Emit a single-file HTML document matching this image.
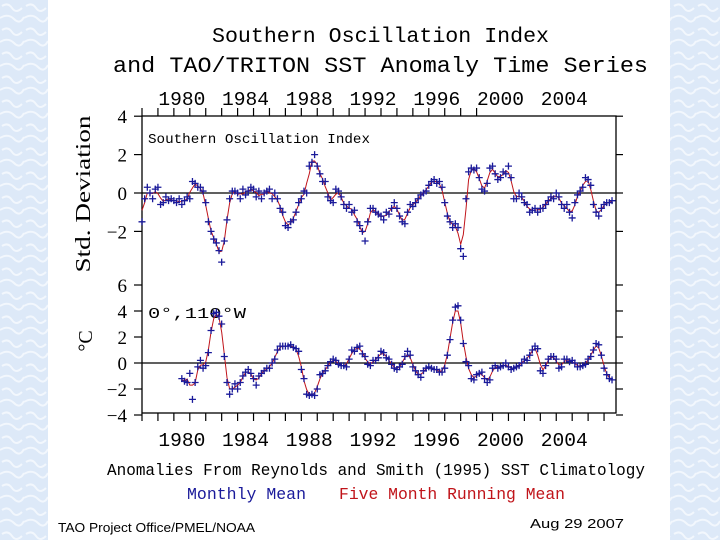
<!DOCTYPE html>
<html><head><meta charset="utf-8"><style>
html,body{margin:0;padding:0;width:720px;height:540px;overflow:hidden;background:#e4eefa;}
svg{display:block}
text{font-family:"Liberation Serif",serif;fill:#000}
.m{font-family:"Liberation Mono",monospace}
</style></head><body>
<svg id="c" width="720" height="540" viewBox="0 0 720 540" xmlns="http://www.w3.org/2000/svg">
<defs><pattern id="bg" width="24" height="24" patternUnits="userSpaceOnUse"><rect width="24" height="24" fill="#dde9f8"/><path d="M2 6 q6 -4 10 2 t10 0 M0 18 q8 -5 14 1 t10 -2" stroke="#f2f7fd" stroke-width="2" fill="none"/></pattern></defs>
<rect x="0" y="0" width="720" height="540" fill="url(#bg)"/>
<rect x="48" y="0" width="622" height="540" fill="#fff"/>
<text class="m" x="212" y="42" font-size="21" textLength="337" lengthAdjust="spacingAndGlyphs">Southern Oscillation Index</text>
<text class="m" x="113" y="72" font-size="22" textLength="535" lengthAdjust="spacingAndGlyphs">and TAO/TRITON SST Anomaly Time Series</text>
<text x="90" y="194" font-size="21" text-anchor="middle" transform="rotate(-90 90 194)" textLength="157" lengthAdjust="spacingAndGlyphs">Std. Deviation</text>
<text x="92" y="341" font-size="20" text-anchor="middle" transform="rotate(-90 92 341)">°C</text>
<text class="m" x="148" y="143" font-size="14" textLength="222" lengthAdjust="spacingAndGlyphs">Southern Oscillation Index</text>
<text class="m" x="148" y="318" font-size="15" textLength="98" lengthAdjust="spacingAndGlyphs">0°,110°W</text>
<text class="m" x="107" y="475" font-size="17" textLength="538" lengthAdjust="spacingAndGlyphs">Anomalies From Reynolds and Smith (1995) SST Climatology</text>
<text class="m" x="187" y="499" font-size="17" style="fill:#1a1a9a" textLength="119" lengthAdjust="spacingAndGlyphs">Monthly Mean</text>
<text class="m" x="339" y="499" font-size="17" style="fill:#c0141a" textLength="226" lengthAdjust="spacingAndGlyphs">Five Month Running Mean</text>
<text x="58" y="532" font-size="13" style="font-family:'Liberation Sans',sans-serif" textLength="197" lengthAdjust="spacingAndGlyphs">TAO Project Office/PMEL/NOAA</text>
<text x="530" y="528" font-size="13" style="font-family:'Liberation Sans',sans-serif" textLength="94" lengthAdjust="spacingAndGlyphs">Aug 29 2007</text>
<g id="plot"></g>
</svg>
<script>
const soiStart = 1978.0;
const soiValues = [
-1.5,-0.3,0.3,0,-0.3,0.2,
0.3,-0.6,-0.5,-0.2,-0.4,-0.3,
-0.4,-0.5,-0.3,-0.6,-0.4,-0.2,
-0.3,0.6,0.5,0.3,0.3,0.1,
-0.5,-1.5,-2.0,-2.4,-2.6,-3.0,
-3.6,-2.5,-1.4,-0.3,0.1,0.1,
0,-0.3,0.2,-0.1,0.1,0.3,
0.2,-0.2,0.1,-0.3,0,0.1,
0.2,-0.3,0,-0.3,-0.8,-1.0,
-1.7,-1.8,-1.5,-1.4,-1.0,-0.5,
-0.3,0.1,0,1.4,1.6,2.0,
1.4,1.0,0.6,0.6,-0.2,-0.4,
-0.5,0.2,0.1,-0.2,-0.6,-0.8,
-0.6,-1.0,-0.9,-1.5,-1.7,-2.0,
-2.5,-1.5,-0.8,-0.8,-1.0,-1.1,
-1.2,-1.4,-1.0,-1.1,-0.8,-0.5,
-0.8,-1.2,-1.5,-1.6,-1.0,-0.6,
-0.7,-0.5,-0.3,-0.1,0,0.1,
0.4,0.6,0.7,0.5,0.6,0.3,
-0.5,-1.2,-1.5,-1.8,-1.6,-1.8,
-2.9,-3.3,-0.3,1.1,1.3,1.2,
1.3,0.8,0.2,0.1,0.5,1.3,
1.4,1.0,0.7,0.8,1.1,1.0,
1.4,0.8,-0.3,-0.3,0,-0.2,
-0.5,-0.6,-1.0,-0.9,-0.8,-1.0,
-0.8,-0.8,-0.6,-0.4,-0.2,-0.3,
0,-0.2,-0.6,-0.8,-0.6,-1.0,
-1.3,-0.5,-0.1,0.1,0.3,0.8,
0.7,0.4,-0.6,-1.0,-1.2,-0.8,
-0.6,-0.5,-0.5,-0.4];
const sstStart = 1980.5;
const sstValues = [
-1.2,-1.4,-1.5,
-0.8,-2.8,-1.5,-0.3,0.2,-0.4,
-0.2,0.8,2.5,3.8,3.9,3.6,
3.0,0.5,-1.5,-2.4,-2.0,-1.6,
-2.0,-1.5,-1.0,-0.7,-0.5,-0.8,
-1.2,-1.7,-1.0,-0.8,-0.6,-0.4,
-0.4,0,0.3,1.0,1.3,1.3,
1.3,1.3,1.4,1.2,1.1,0.9,
-0.5,-1.2,-2.4,-2.5,-2.4,-2.5,
-2.0,-0.9,-0.8,-0.6,-0.2,0.1,
0.3,0.2,-0.1,-0.2,-0.2,-0.3,
0.3,1.0,0.9,1.2,1.3,0.7,
0.5,-0.1,-0.2,0.2,0.2,0.4,
0.9,0.8,0.4,0.3,-0.1,-0.4,
-0.5,-0.3,-0.1,0.5,0.9,0.6,
-0.3,-0.6,-0.9,-1.1,-0.6,-0.4,
-0.3,-0.4,-0.5,-0.5,-0.7,-0.7,
-0.4,0.6,1.8,3.3,4.3,4.4,
3.3,1.5,0.1,-0.2,-1.2,-1.3,
-0.9,-0.8,-0.7,-1.2,-1.5,-1.3,
-0.4,-0.2,-0.4,-0.3,-0.2,0,
-0.3,-0.5,-0.4,-0.3,-0.2,0,
0.3,0.2,0.6,1.0,1.3,1.1,
-0.6,-0.8,-0.2,0.3,0.5,0.5,
0.3,-0.4,-0.3,0.3,0.3,0.1,
0.2,0,-0.3,-0.3,-0.2,-0.1,
0.3,0.5,1.0,1.5,1.4,0.6,
-0.4,-0.9,-1.2,-1.3];
const yearLabels = ["1980","1984","1988","1992","1996","2000","2004"];
const soiTicks = [4,2,0,-2];
const sstTicks = [6,4,2,0,-2,-4];

const NS="http://www.w3.org/2000/svg";
const g=document.getElementById('plot');
const X0=142,X1=616,T0=1978,T1=2007.75;
const xs=t=>X0+(t-T0)*(X1-X0)/(T1-T0);
const ySoi=v=>193-v*19.2;
const ySst=v=>363-v*13;
function el(tag,attrs,parent){const e=document.createElementNS(NS,tag);for(const k in attrs)e.setAttribute(k,attrs[k]);(parent||g).appendChild(e);return e;}
function runMean(a){return a.map((v,i)=>{let s=0,n=0;for(let j=i-1;j<=i+1;j++){if(j>=0&&j<a.length){s+=a[j];n++;}}return s/n;});}

const fr=el('rect',{x:X0,y:116,width:X1-X0,height:297,fill:'none',stroke:'#000','stroke-width':1.3});


const z1=el('line',{x1:X0,x2:X1,y1:ySoi(0),y2:ySoi(0),stroke:'#000','stroke-width':1.2});


const z2=el('line',{x1:X0,x2:X1,y1:ySst(0),y2:ySst(0),stroke:'#000','stroke-width':1.2});



function yTicks(ticks,yf,name){
  ticks.forEach(v=>{
    const y=yf(v);
    el('line',{x1:X0-8,x2:X0,y1:y,y2:y,stroke:'#000','stroke-width':1.2});
    el('line',{x1:X1,x2:X1+7,y1:y,y2:y,stroke:'#000','stroke-width':1.2});
    const t=el('text',{x:127,y:y+7,'font-size':19,'text-anchor':'end'});
    t.textContent=(v<0?'\u2212'+Math.abs(v):String(v));
    
    
  });
}
yTicks(soiTicks,ySoi,'soi');
yTicks(sstTicks,ySst,'sst');

for(let yr=1978;yr<=2007;yr++){
  const x=xs(yr);
  el('line',{x1:x,x2:x,y1:413,y2:421,stroke:'#000','stroke-width':1.2});
  if(yr<=1999) el('line',{x1:x,x2:x,y1:116,y2:108,stroke:'#000','stroke-width':1.2});
}
yearLabels.forEach(l=>{
  const x=xs(+l+0.5);
  const a=el('text',{x:x,y:105,'font-size':19,'text-anchor':'middle',class:'m',textLength:47,lengthAdjust:'spacingAndGlyphs'});
  a.textContent=l;
  
  
  const b=el('text',{x:x,y:446,'font-size':19,'text-anchor':'middle',class:'m',textLength:47,lengthAdjust:'spacingAndGlyphs'});
  b.textContent=l;
  
  
});

function series(vals,start,yf,name){
  const rm=runMean(vals);
  const pts=rm.map((v,i)=>xs(start+i/6).toFixed(1)+','+yf(v).toFixed(1)).join(' ');
  const pl=el('polyline',{points:pts,fill:'none',stroke:'#c0141a','stroke-width':1});
  
  
  vals.forEach((v,i)=>{
    const x=xs(start+i/6),y=yf(v);
    const p=el('path',{d:`M${x-3.5} ${y}H${x+3.5}M${x} ${y-3.5}V${y+3.5}`,stroke:'#1a1a9a','stroke-width':1.3});
    
    
  });
}
series(soiValues,soiStart,ySoi,'soi');
series(sstValues,sstStart,ySst,'sst');
</script>
</body></html>
